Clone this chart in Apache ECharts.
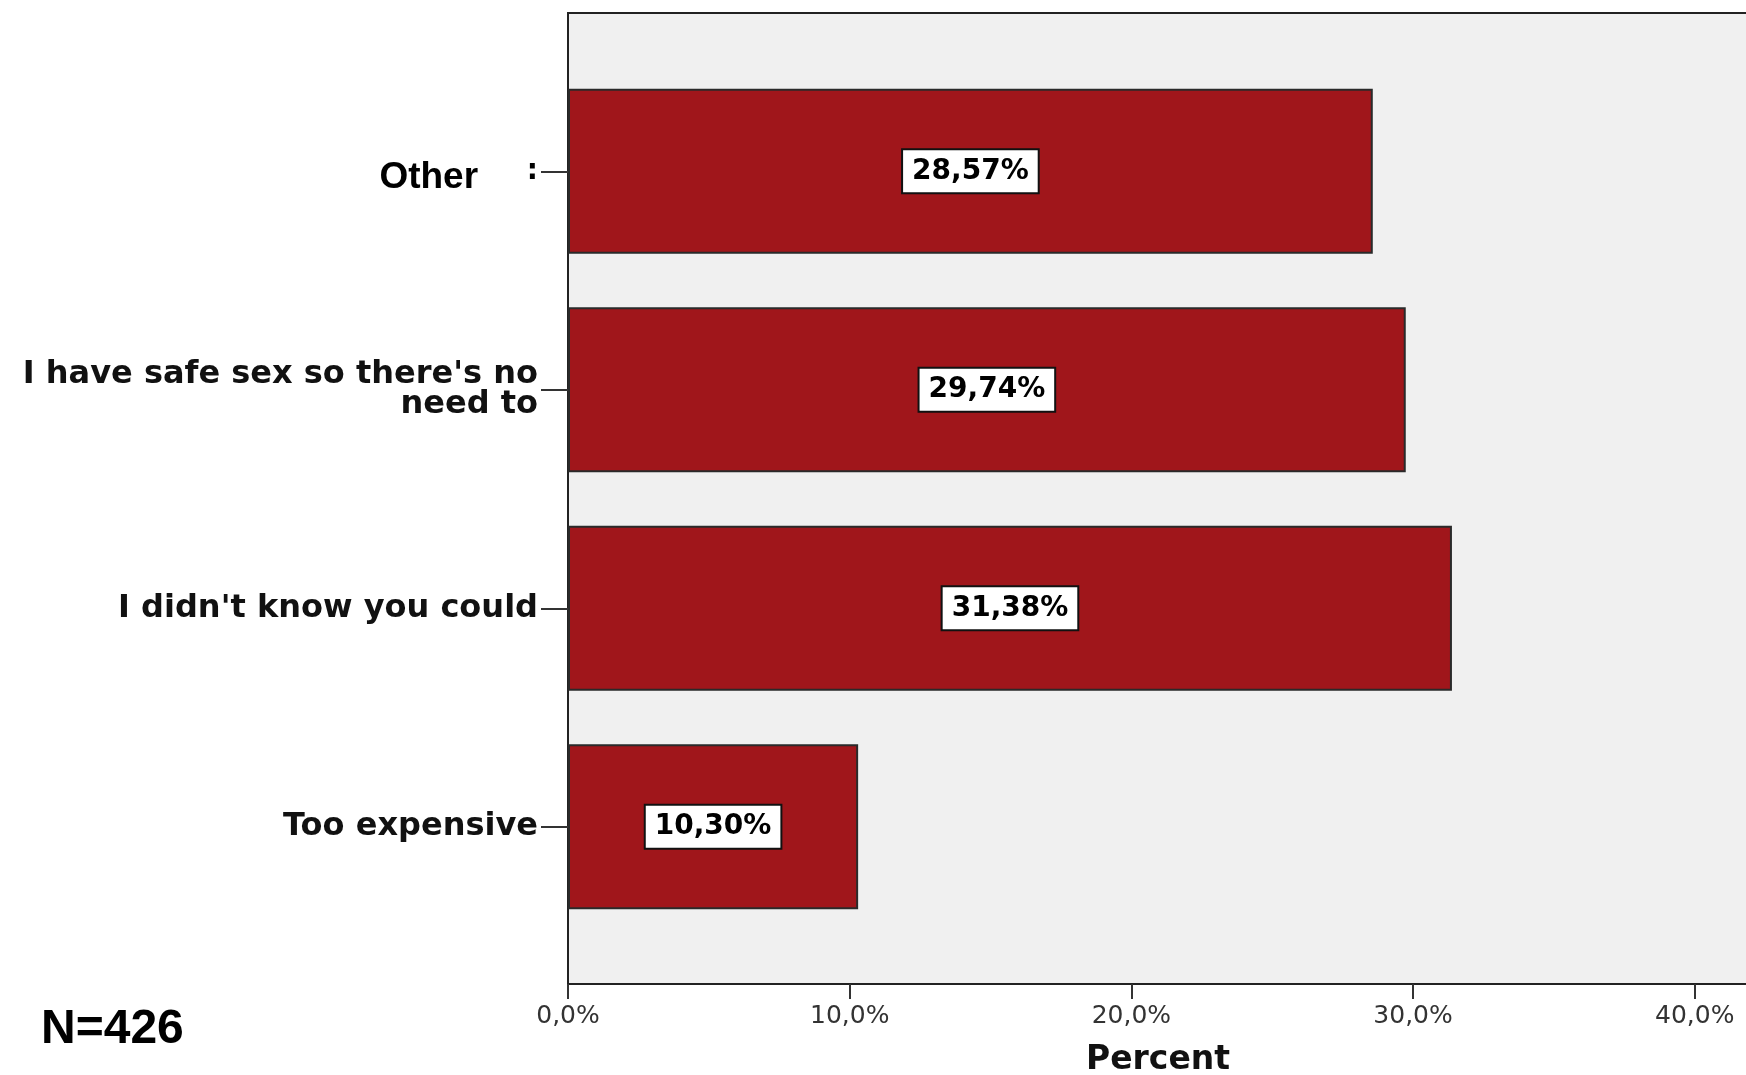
<!DOCTYPE html>
<html>
<head>
<meta charset="utf-8">
<script src="https://cdn.jsdelivr.net/npm/echarts@6/dist/echarts.min.js"></script>
<style>
html,body{margin:0;padding:0;background:#fff;}
#chart{width:1746px;height:1075px;}
</style>
</head>
<body>
<div id="chart"></div>
<script>
const categories = ["Other     :", "I have safe sex so there's no\nneed to", "I didn't know you could", "Too expensive"];
const percentValues = [28.57, 29.74, 31.38, 10.30];
const xTickValues = [0, 10, 20, 30, 40];
const axisTitle = "Percent";
const sampleNote = "N=426";

const chart = echarts.init(document.getElementById('chart'), null, {renderer: 'canvas'});
const XMAX = 41.89;
const fmtTick = v => xTickValues.indexOf(v) >= 0 ? v.toFixed(1).replace('.', ',') + '%' : '';

const option = {
  backgroundColor: '#ffffff',
  animation: false,
  grid: [
    {left: 568, right: -2, top: 13, bottom: 91, show: true, backgroundColor: '#f0f0f0', borderColor: '#222', borderWidth: 2, containLabel: false, outerBoundsMode: 'none'},
    {left: 568, right: -2, top: 62, bottom: 139, containLabel: false, outerBoundsMode: 'none'}
  ],
  xAxis: [
    {
      gridIndex: 0, type: 'value', min: 0, max: XMAX, interval: 10,
      splitLine: {show: false},
      axisLine: {show: true, lineStyle: {color: '#222', width: 2}},
      axisTick: {show: true, length: 15, lineStyle: {color: '#333', width: 2}},
      axisLabel: {formatter: fmtTick, margin: 20, fontFamily: 'DejaVu Sans', fontSize: 25, color: '#333', showMaxLabel: false},
      name: axisTitle, nameLocation: 'middle', nameGap: 60,
      nameTextStyle: {fontFamily: 'DejaVu Sans', fontWeight: 'bold', fontSize: 33, color: '#111'}
    },
    {gridIndex: 1, type: 'value', min: 0, max: XMAX, interval: 10, show: false}
  ],
  yAxis: [
    {gridIndex: 0, type: 'value', show: false},
    {
      gridIndex: 1, type: 'category', data: categories, inverse: true,
      axisLine: {show: false},
      axisTick: {show: true, alignWithLabel: true, length: 27, lineStyle: {color: '#333', width: 2}},
      axisLabel: {
        margin: 30, fontFamily: 'DejaVu Sans', fontWeight: 'bold', fontSize: 32, color: '#111', lineHeight: 30, align: 'right',
        formatter: function (v) {
          if (v.indexOf('Other') === 0) {
            const parts = v.split(/\s+/);
            return '{o|' + parts[0] + '}{s|          }{c|' + parts[1] + '}';
          }
          return v;
        },
        rich: {
          o: {fontFamily: 'Liberation Sans', fontWeight: 'bold', fontSize: 37, color: '#000', padding: [14, 0, 0, 0]},
          s: {fontFamily: 'DejaVu Sans', fontSize: 14},
          c: {fontFamily: 'DejaVu Sans', fontWeight: 'bold', fontSize: 28, color: '#000'}
        }
      }
    }
  ],
  series: [{
    type: 'bar', xAxisIndex: 1, yAxisIndex: 1, data: percentValues,
    barCategoryGap: '24.5%',
    itemStyle: {color: '#a0161b', borderColor: '#2a2a2a', borderWidth: 2},
    label: {
      show: true, position: 'inside',
      formatter: p => p.value.toFixed(2).replace('.', ',') + '%',
      fontFamily: 'DejaVu Sans', fontWeight: 'bold', fontSize: 28, color: '#000', lineHeight: 31,
      backgroundColor: '#fff', borderColor: '#111', borderWidth: 2, padding: [6, 9, 5, 9]
    }
  }],
  graphic: [{
    type: 'text', left: 41, top: 1006,
    style: {text: sampleNote, fontFamily: 'Liberation Sans', fontWeight: 'bold', fontSize: 48, fill: '#000'}
  }]
};
chart.setOption(option);
</script>
</body>
</html>
